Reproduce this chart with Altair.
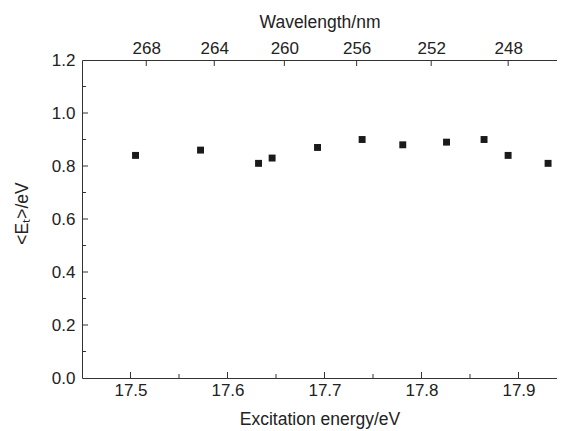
import altair as alt
import pandas as pd

# ---- data ----
energy = [17.5052, 17.5722, 17.6320, 17.6460, 17.6928, 17.7388,
          17.7807, 17.8258, 17.8645, 17.8893, 17.9305]
mean_et = [0.84, 0.86, 0.81, 0.83, 0.87, 0.90, 0.88, 0.89, 0.90, 0.84, 0.81]

wavelength_ticks = [268, 264, 260, 256, 252, 248]
HC = 1239.84
E_OFFSET = 12.890          # Excitation energy = hc/lambda + offset

x_major = [17.5, 17.6, 17.7, 17.8, 17.9]
x_minor = [17.55, 17.65, 17.75, 17.85]
y_labels = [0, 0.2, 0.4, 0.6, 0.8, 1.0, 1.2]
y_major = [0.2, 0.4, 0.6, 0.8, 1.0]
y_minor = [0.1, 0.3, 0.5, 0.7, 0.9, 1.1]

wl_energy = [HC / w + E_OFFSET for w in wavelength_ticks]

W, H = 475, 318
FONT = "Liberation Sans"
INK = "#222222"
AX = "#333333"

xscale = alt.Scale(domain=[17.45, 17.9397], nice=False, zero=False)
yscale = alt.Scale(domain=[0, 1.2], nice=False, zero=True)

pts = pd.DataFrame({"e": energy, "t": mean_et})
top_df = pd.DataFrame({"e": wl_energy})
xmaj_df = pd.DataFrame({"v": x_major})
xmin_df = pd.DataFrame({"v": x_minor})
ymaj_df = pd.DataFrame({"v": y_major})
ymin_df = pd.DataFrame({"v": y_minor})

points = alt.Chart(pts).mark_square(size=48, color="#1a1a1a", opacity=1).encode(
    x=alt.X("e:Q", scale=xscale, axis=alt.Axis(
        orient="bottom", title="Excitation energy/eV", values=x_major, format=".1f",
        ticks=False, tickSize=0, labelPadding=4, titlePadding=12)),
    y=alt.Y("t:Q", scale=yscale, axis=alt.Axis(
        orient="left", title="<Eₜ>/eV", values=y_labels,
        format=".1f", ticks=False, tickSize=0, labelPadding=7, titlePadding=20,
        titleY=153)),
)

top_ticks = alt.Chart(top_df).mark_rule(color=AX, strokeWidth=1).encode(
    x=alt.X("e:Q", scale=xscale, axis=alt.Axis(
        orient="top", title="Wavelength/nm", values=wl_energy,
        labelExpr=f"format({HC}/(datum.value-{E_OFFSET}), '.0f')",
        ticks=False, tickSize=0, labelPadding=3, titlePadding=8)),
    y=alt.value(0), y2=alt.value(6),
)

bot_major = alt.Chart(xmaj_df).mark_rule(color=AX, strokeWidth=1).encode(
    x=alt.X("v:Q", scale=xscale, axis=None), y=alt.value(H), y2=alt.value(H - 6))
bot_minor = alt.Chart(xmin_df).mark_rule(color=AX, strokeWidth=1).encode(
    x=alt.X("v:Q", scale=xscale, axis=None), y=alt.value(H), y2=alt.value(H - 4))
left_major = alt.Chart(ymaj_df).mark_rule(color=AX, strokeWidth=1).encode(
    y=alt.Y("v:Q", scale=yscale, axis=None), x=alt.value(0), x2=alt.value(6))
left_minor = alt.Chart(ymin_df).mark_rule(color=AX, strokeWidth=1).encode(
    y=alt.Y("v:Q", scale=yscale, axis=None), x=alt.value(0), x2=alt.value(4))

chart = alt.layer(points, top_ticks, bot_major, bot_minor, left_major, left_minor).resolve_axis(
    x="independent", y="independent"
).properties(
    width=W, height=H,
    autosize=alt.AutoSizeParams(type="none"),
    padding={"left": 74, "top": 52, "right": 0, "bottom": 53},
    background="white",
).configure_view(stroke=None).configure_axis(
    grid=False, domainColor=AX, domainWidth=1,
    labelFont=FONT, titleFont=FONT, labelFontSize=17, titleFontSize=17.5,
    titleFontWeight="normal", labelColor=INK, titleColor=INK,
)

chart.save("out.html", embed_options={"renderer": "svg", "actions": False})
